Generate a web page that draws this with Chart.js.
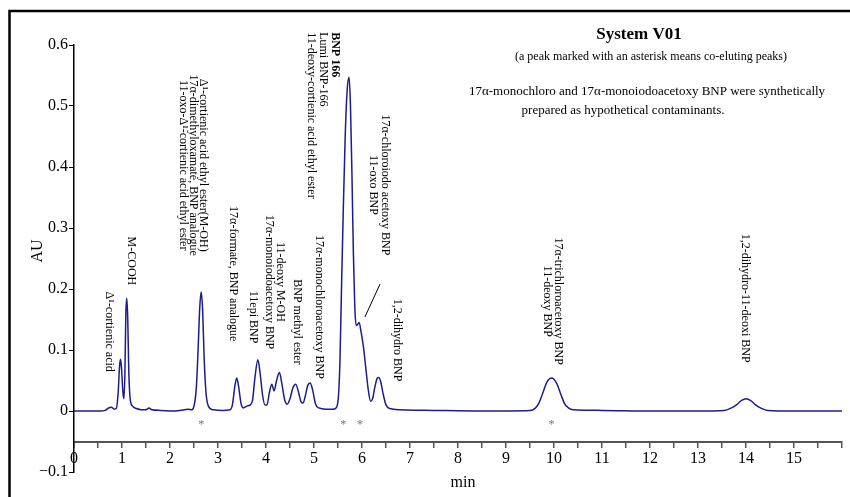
<!DOCTYPE html>
<html>
<head>
<meta charset="utf-8">
<script src="https://cdn.jsdelivr.net/npm/chart.js@4.4.0/dist/chart.umd.min.js"></script>
<style>
  body { margin: 0; background: #fff; }
  #wrap { width: 850px; height: 497px; }
</style>
</head>
<body>
<div id="wrap"><canvas id="chrom" width="850" height="497"></canvas></div>
<script>
// retention time (min) and absorbance (AU)
var times = [
  0.00, 0.55, 0.65, 0.72, 0.78, 0.84, 0.88, 0.92, 0.95, 0.97, 0.99, 1.02, 1.04, 1.06, 1.08, 1.10,
  1.12, 1.14, 1.17, 1.22, 1.30, 1.40, 1.50, 1.56, 1.62, 1.80, 2.10, 2.30, 2.38, 2.45, 2.50, 2.55,
  2.59, 2.62, 2.65, 2.68, 2.71, 2.75, 2.80, 2.90, 3.10, 3.25, 3.30, 3.35, 3.39, 3.43, 3.48, 3.53,
  3.60, 3.67, 3.72, 3.77, 3.83, 3.88, 3.93, 3.98, 4.02, 4.07, 4.12, 4.17, 4.22, 4.28, 4.33, 4.39,
  4.44, 4.50, 4.56, 4.62, 4.68, 4.73, 4.77, 4.82, 4.87, 4.92, 4.97, 5.03, 5.10, 5.25, 5.40, 5.47,
  5.51, 5.54, 5.57, 5.61, 5.65, 5.69, 5.73, 5.76, 5.79, 5.82, 5.85, 5.88, 5.91, 5.94, 5.98, 6.03,
  6.08, 6.13, 6.18, 6.22, 6.27, 6.32, 6.35, 6.39, 6.44, 6.50, 6.58, 6.80, 7.50, 8.50, 9.50, 9.60,
  9.68, 9.76, 9.85, 9.95, 10.05, 10.14, 10.22, 10.30, 10.40, 11.0, 12.0, 13.0, 13.55, 13.70, 13.80, 13.90,
  14.00, 14.10, 14.20, 14.30, 14.45, 15.0, 16.0
];
var absorbance = [
  0.000, 0.000, 0.001, 0.005, 0.006, 0.003, 0.004, 0.030, 0.075, 0.085, 0.070, 0.030, 0.020, 0.060, 0.160, 0.185,
  0.150, 0.070, 0.020, 0.008, 0.004, 0.002, 0.002, 0.005, 0.002, 0.001, 0.000, 0.002, 0.003, 0.002, 0.008, 0.040,
  0.110, 0.170, 0.195, 0.165, 0.090, 0.030, 0.008, 0.002, 0.001, 0.002, 0.010, 0.040, 0.054, 0.040, 0.012, 0.005,
  0.008, 0.010, 0.018, 0.055, 0.084, 0.060, 0.025, 0.010, 0.010, 0.030, 0.044, 0.033, 0.050, 0.063, 0.045, 0.018,
  0.011, 0.020, 0.038, 0.044, 0.030, 0.015, 0.013, 0.025, 0.042, 0.046, 0.035, 0.012, 0.005, 0.003, 0.003, 0.006,
  0.025, 0.080, 0.190, 0.330, 0.450, 0.525, 0.547, 0.500, 0.390, 0.260, 0.170, 0.140, 0.142, 0.145, 0.130, 0.105,
  0.070, 0.035, 0.016, 0.020, 0.040, 0.054, 0.055, 0.048, 0.028, 0.010, 0.004, 0.002, 0.001, 0.000, 0.001, 0.004,
  0.012, 0.028, 0.047, 0.054, 0.046, 0.028, 0.012, 0.005, 0.002, 0.001, 0.000, 0.000, 0.001, 0.005, 0.010, 0.017,
  0.020, 0.017, 0.010, 0.005, 0.001, 0.000, 0.000
];

// co-eluting peaks (asterisks), retention times
var asteriskTimes = [2.65, 5.61, 5.96, 9.95];

// peak names, one entry per text column: [text, time, AU anchor, align, bold]
var peakNames = [
  ["Δ¹-cortienic acid", 0.73, 0.130, "center"],
  ["M-COOH", 1.19, 0.246, "center"],
  ["Δ¹-cortienic acid ethyl ester(M-OH)", 2.69, 0.403, "center"],
  ["17α-dimethyloxamate, BNP analogue", 2.48, 0.403, "center"],
  ["11-oxo-Δ¹-cortienic acid ethyl ester", 2.27, 0.403, "center"],
  ["17α-formate, BNP analogue", 3.31, 0.225, "center"],
  ["11epi BNP", 3.73, 0.154, "center"],
  ["11-deoxy M-OH", 4.29, 0.2115, "center"],
  ["17α-monoiodoacetoxy BNP", 4.06, 0.2115, "center"],
  ["BNP methyl ester", 4.65, 0.146, "center"],
  ["17α-monochloroacetoxy BNP", 5.10, 0.1705, "center"],
  ["BNP 166", 5.44, 0.621, "left", true],
  ["Lumi BNP-166", 5.19, 0.621, "left"],
  ["11-deoxy-cortienic acid ethyl ester", 4.94, 0.621, "left"],
  ["17α-chloroiodo acetoxy BNP", 6.48, 0.3705, "center"],
  ["11-oxo BNP", 6.23, 0.3705, "center"],
  ["1,2-dihydro BNP", 6.73, 0.1164, "center"],
  ["17α-trichloroacetoxy BNP", 10.08, 0.180, "center"],
  ["11-deoxy BNP", 9.85, 0.180, "center"],
  ["1,2-dihydro-11-deoxi BNP", 13.98, 0.185, "center"]
];

var SERIF = "'Liberation Serif', 'Times New Roman', serif";
Chart.defaults.font.family = SERIF;

function vtext(ctx, txt, x, y, align) {
  ctx.save();
  ctx.translate(x, y);
  ctx.rotate(Math.PI / 2);
  ctx.textAlign = align;
  ctx.textBaseline = "middle";
  ctx.fillText(txt, 0, 0);
  ctx.restore();
}

// frame, header texts, peak names, asterisks
var annotations = {
  id: "annotations",
  afterDraw: function (chart) {
    var ctx = chart.ctx;
    var xs = chart.scales.x, ys = chart.scales.y;
    ctx.save();

    // frame (left + top)
    ctx.strokeStyle = "#000";
    ctx.lineWidth = 2.5;
    ctx.beginPath();
    ctx.moveTo(9.5, 497);
    ctx.lineTo(9.5, 11);
    ctx.lineTo(850, 11);
    ctx.stroke();

    ctx.fillStyle = "#000";
    ctx.textAlign = "center";
    ctx.textBaseline = "middle";
    ctx.font = "bold 17px " + SERIF;
    ctx.fillText("System V01", 639, 35);
    ctx.font = "12px " + SERIF;
    ctx.fillText("(a peak marked with an asterisk means co-eluting peaks)", 651, 57);
    ctx.font = "13px " + SERIF;
    ctx.fillText("17α-monochloro and 17α-monoiodoacetoxy BNP were synthetically", 647, 92);
    ctx.fillText("prepared as hypothetical contaminants.", 623, 111);

    // axis titles
    ctx.font = "16px " + SERIF;
    ctx.textBaseline = "alphabetic";
    ctx.fillText("min", 463, 487);
    ctx.save();
    ctx.translate(38, 251);
    ctx.rotate(-Math.PI / 2);
    ctx.textBaseline = "middle";
    ctx.fillText("AU", 0, 0);
    ctx.restore();

    // peak names
    peakNames.forEach(function (p) {
      ctx.font = (p[4] ? "bold " : "") + "12px " + SERIF;
      vtext(ctx, p[0], xs.getPixelForValue(p[1]), ys.getPixelForValue(p[2]), p[3]);
    });

    // leader line to the shoulder
    ctx.strokeStyle = "#000";
    ctx.lineWidth = 1;
    ctx.beginPath();
    ctx.moveTo(xs.getPixelForValue(6.375), ys.getPixelForValue(0.208));
    ctx.lineTo(xs.getPixelForValue(6.06), ys.getPixelForValue(0.154));
    ctx.stroke();

    // asterisks
    ctx.fillStyle = "#777";
    ctx.font = "12px " + SERIF;
    ctx.textAlign = "center";
    ctx.textBaseline = "alphabetic";
    asteriskTimes.forEach(function (t) {
      ctx.fillText("*", xs.getPixelForValue(t), ys.getPixelForValue(-0.018) + 6);
    });
    ctx.restore();
  }
};

new Chart(document.getElementById("chrom"), {
  type: "line",
  data: {
    datasets: [{
      data: times.map(function (t, i) { return { x: t, y: absorbance[i] }; }),
      borderColor: "#1c1c8c",
      borderWidth: 1.5,
      pointRadius: 0,
      cubicInterpolationMode: "monotone",
      fill: false
    }]
  },
  options: {
    responsive: false,
    animation: false,
    layout: { padding: { left: 8, top: 45, right: 8, bottom: 25 } },
    plugins: { legend: { display: false }, tooltip: { enabled: false } },
    scales: {
      x: {
        type: "linear",
        min: 0,
        max: 16,
        position: { y: -0.05 },
        grid: { drawOnChartArea: false, drawTicks: true, tickLength: 5, color: "#555", lineWidth: 1.5 },
        border: { display: true, color: "#555", width: 2 },
        ticks: {
          stepSize: 0.5,
          autoSkip: false,
          maxRotation: 0,
          padding: 3,
          color: "#000",
          font: { size: 16, family: SERIF },
          callback: function (v) { return (Number.isInteger(v) && v < 16) ? String(v) : ""; }
        }
      },
      y: {
        min: -0.1,
        max: 0.6,
        afterFit: function (s) { s.width = 66; },
        grid: { drawOnChartArea: false, drawTicks: true, tickLength: 5, color: "#000" },
        border: { display: true, color: "#000", width: 1.5 },
        ticks: {
          stepSize: 0.1,
          padding: 1,
          color: "#000",
          font: { size: 16, family: SERIF },
          callback: function (v) {
            if (Math.abs(v) < 1e-9) return "0";
            return (v < 0 ? "\u22120." : "0.") + Math.round(Math.abs(v) * 10);
          }
        }
      }
    }
  },
  plugins: [annotations]
});
</script>
</body>
</html>
